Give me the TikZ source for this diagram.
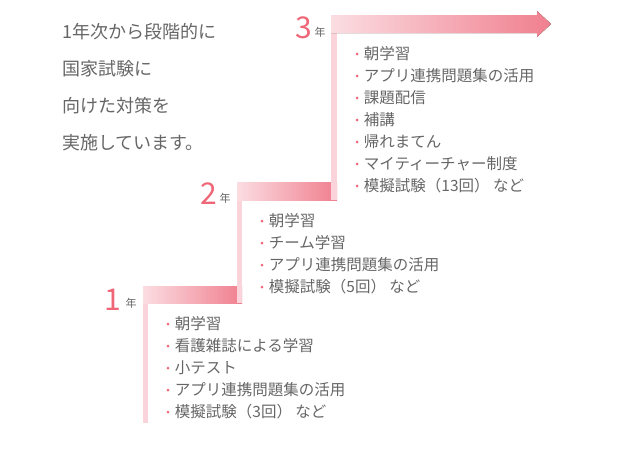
\documentclass[tikz,border=0pt]{standalone}
\usepackage{fontspec}
\setmainfont{Noto Sans CJK JP}
\usetikzlibrary{positioning}
\definecolor{stepdark}{HTML}{F07F8E}
\definecolor{steplight}{HTML}{FBDDE2}
\definecolor{numpink}{HTML}{EF6677}
\definecolor{txtgray}{HTML}{666666}
\tikzset{
  intro/.style={anchor=west,inner sep=0pt,text=txtgray,font=\fontsize{18}{20}\selectfont},
  item/.style={anchor=west,inner sep=0pt,text=txtgray,font=\fontsize{15.5}{17}\selectfont},
  bullet/.style={circle,fill=numpink,inner sep=0pt,minimum size=3pt},
  yearnum/.style={inner sep=0pt,text=numpink,font=\fontsize{30}{33}\selectfont},
  yearlbl/.style={inner sep=0pt,text=txtgray,font=\fontsize{11}{12}\selectfont},
  band/.style={left color=steplight,right color=stepdark,draw=none},
  riser/.style={fill=steplight!90!stepdark,draw=none}
}
\begin{document}
\begin{tikzpicture}[x=1pt,y=-1pt]
	\useasboundingbox (0,0) rectangle (640,450);

	% staircase
	\fill[riser] (143,286) rectangle (148,423);
	\fill[band] (143,286) rectangle (242,303);
	\fill[riser] (237,182) rectangle (242,303);
	\fill[band] (237,182) rectangle (337,200);
	\fill[riser] (331,15) rectangle (337,200);
	\fill[band] (331,15) -- (537,15) -- (537,11) -- (551,24) -- (537,37) -- (537,33) -- (331,33) -- cycle;

	% intro text
	\node[intro] (intro1) at (62,32) {1年次から段階的に};
	\node[intro] (intro2) at (62,69) {国家試験に};
	\node[intro] (intro3) at (62,106) {向けた対策を};
	\node[intro] (intro4) at (62,143) {実施しています。};

	% year labels
	\node[yearnum] (y3) at (304,28) {3};
	\node[yearlbl,right=2pt of y3.south east,anchor=south west,yshift=2pt] (y3l) {年};
	\node[yearnum] (y2) at (209,194) {2};
	\node[yearlbl,right=2pt of y2.south east,anchor=south west,yshift=2pt] (y2l) {年};
	\node[yearnum] (y1) at (113,300) {1};
	\node[yearlbl,right=4pt of y1.south east,anchor=south west,yshift=2pt] (y1l) {年};

	% lists
	\foreach \t [count=\i] in {朝学習,アプリ連携問題集の活用,課題配信,補講,帰れまてん,マイティーチャー制度,模擬試験（13回）\ など}
	{
		\node[bullet] (b3-\i) at (357,54+22*\i-22) {};
		\node[item,right=5pt of b3-\i] (l3-\i) {\t};
	}
	\foreach \t [count=\i] in {朝学習,チーム学習,アプリ連携問題集の活用,模擬試験（5回）\ など}
	{
		\node[bullet] (b2-\i) at (262,221+22*\i-22) {};
		\node[item,right=5pt of b2-\i] (l2-\i) {\t};
	}
	\foreach \t [count=\i] in {朝学習,看護雑誌による学習,小テスト,アプリ連携問題集の活用,模擬試験（3回）\ など}
	{
		\node[bullet] (b1-\i) at (168,324+22*\i-22) {};
		\node[item,right=5pt of b1-\i] (l1-\i) {\t};
	}
\end{tikzpicture}
\end{document}
